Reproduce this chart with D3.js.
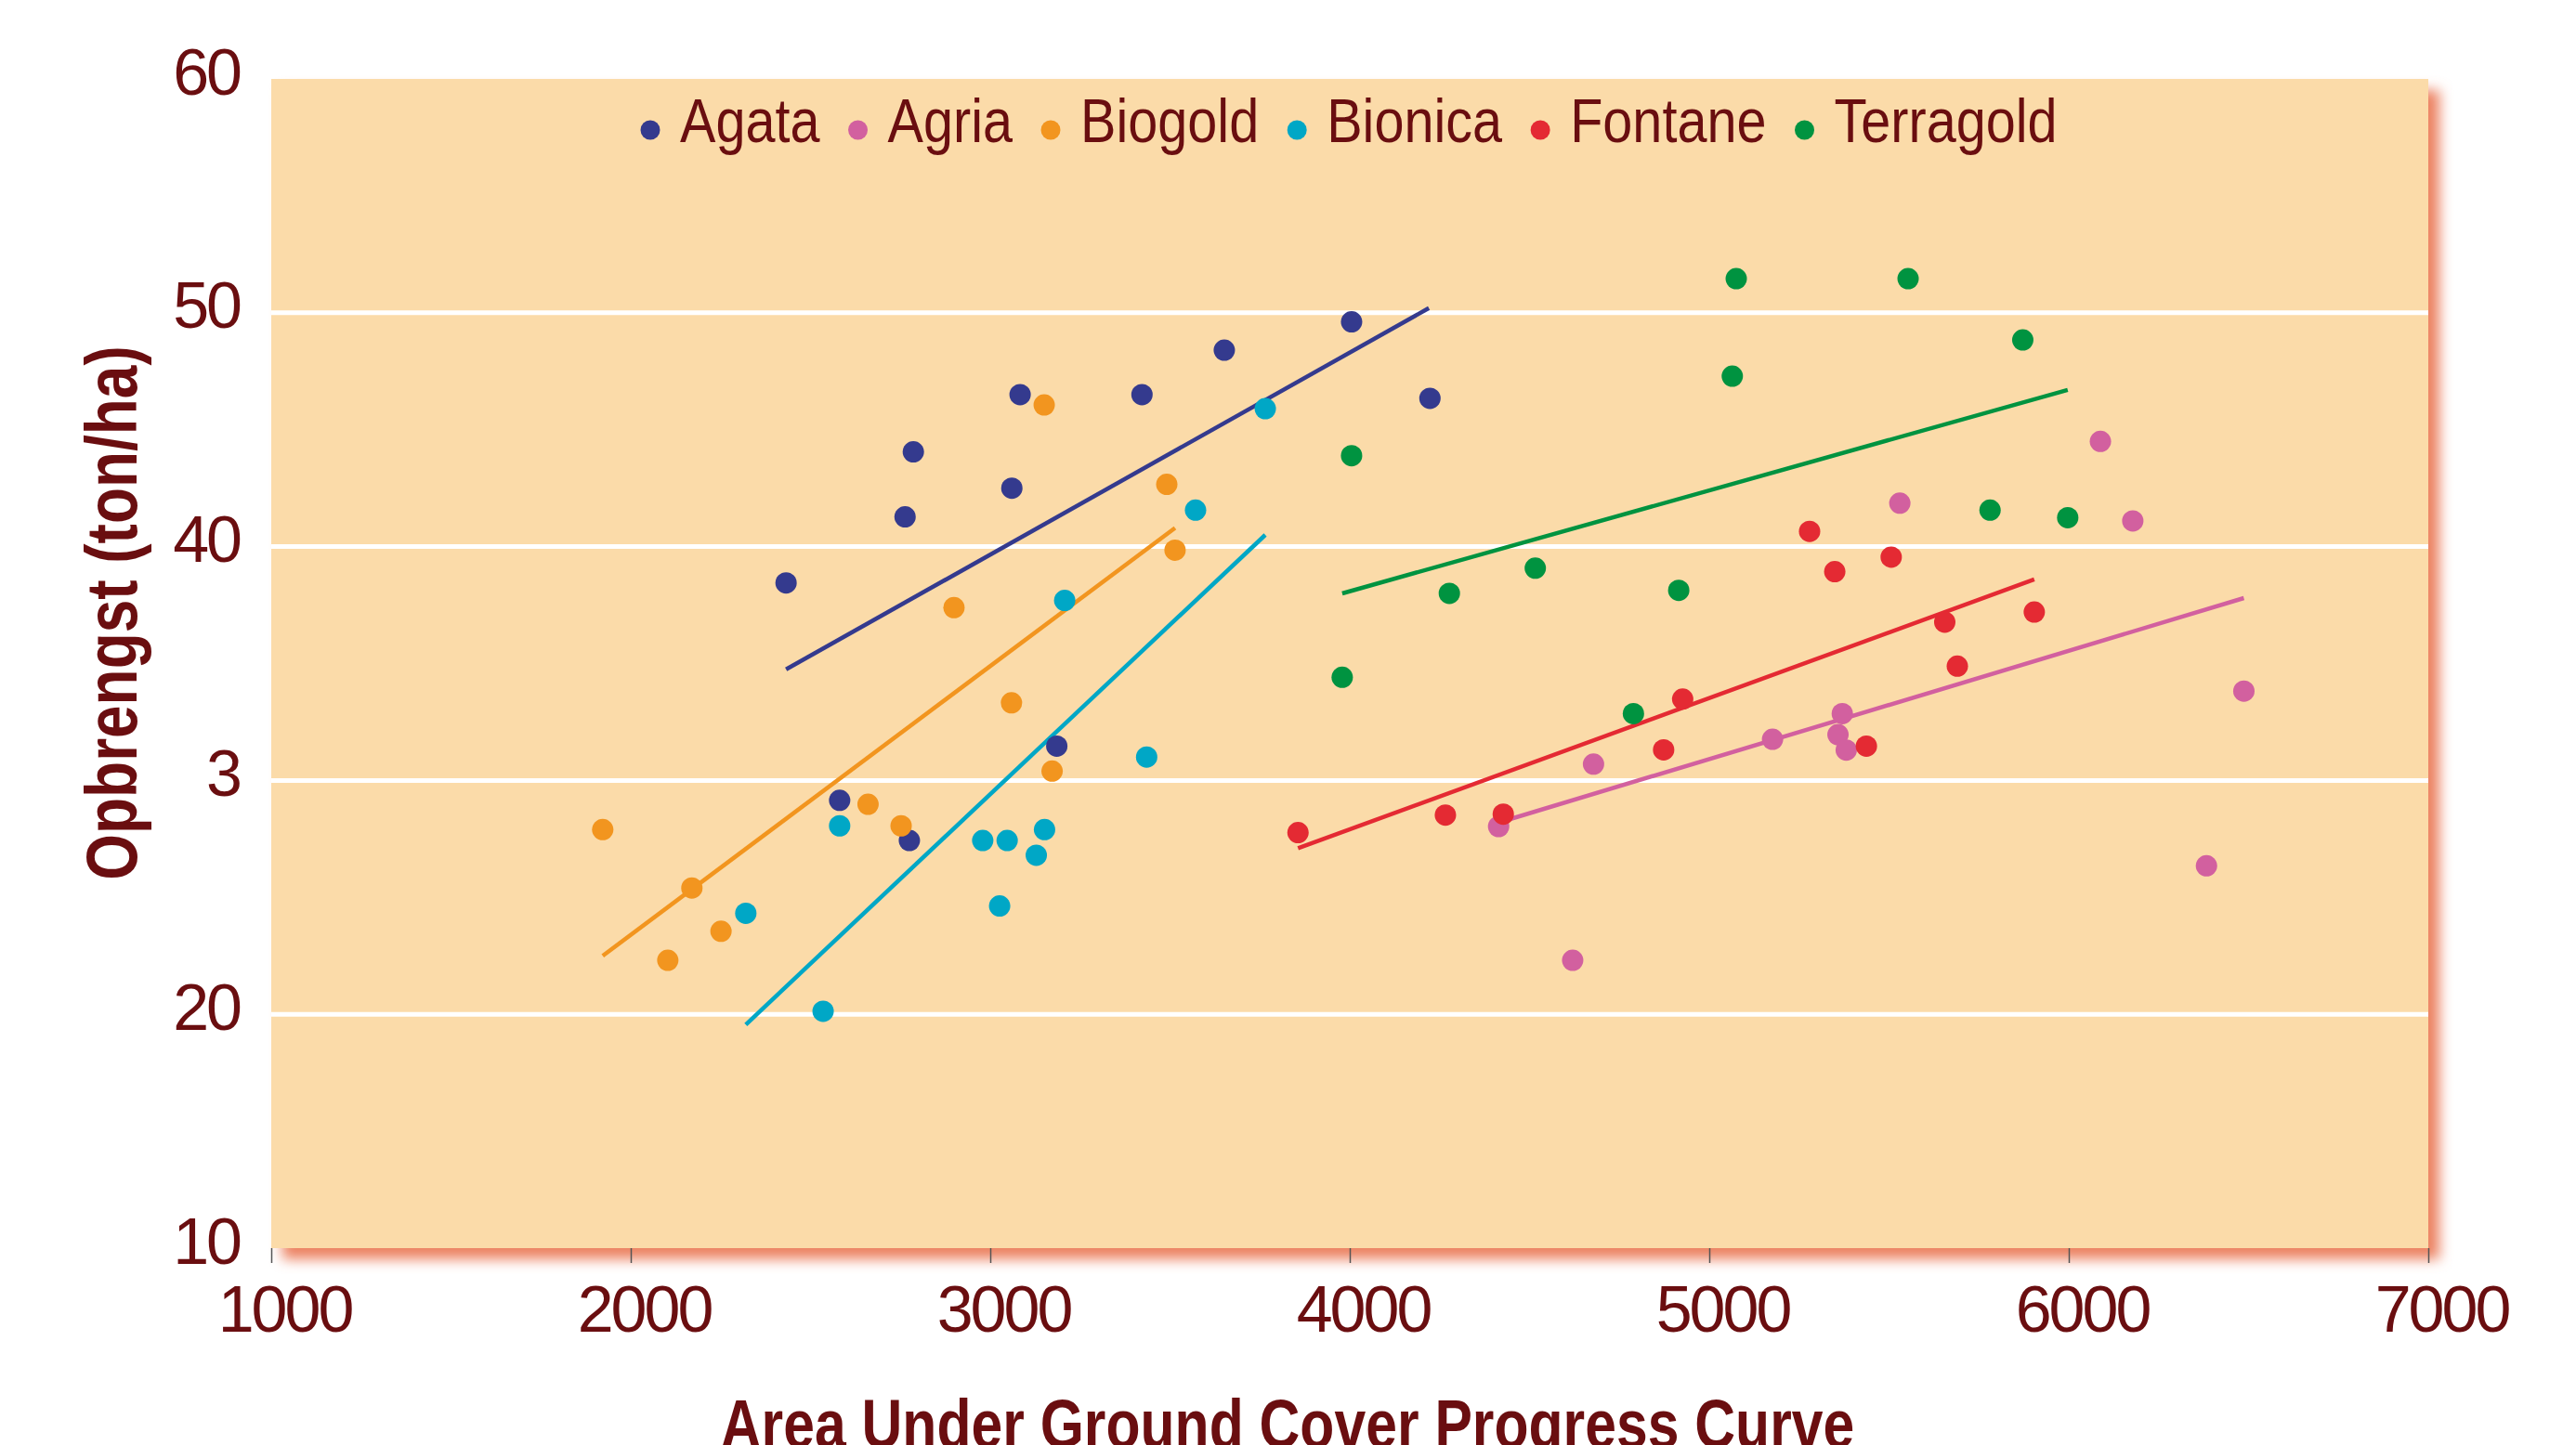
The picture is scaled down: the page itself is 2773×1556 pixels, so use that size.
<!DOCTYPE html>
<html>
<head>
<meta charset="utf-8">
<script src="https://cdn.jsdelivr.net/npm/d3@7"></script>
<style>
body { margin: 0; background: #fff; }
svg { display: block; }
</style>
</head>
<body>
<svg id="chart" width="2773" height="1556"></svg>
<script>
// values: [area under curve, yield]
var seriesNames = ['Agata', 'Agria', 'Biogold', 'Bionica', 'Fontane', 'Terragold'];
var seriesColors = ['#343a8e', '#d2609f', '#f2951f', '#00a7c6', '#e42a33', '#009340'];

var agata = [[2432,38.45],[2763,41.27],[2786,44.05],[3060,42.5],[3083,46.5],[3422,46.5],[3651,48.4],[4005,49.61],[4223,46.34],[3185,31.47],[2581,29.15],[2775,27.43]];
var agria = [[4414,28.03],[4620,22.31],[4678,30.7],[5176,31.76],[5358,31.96],[5370,32.86],[5381,31.3],[5530,41.86],[6088,44.5],[6178,41.1],[6383,26.35],[6487,33.82]];
var biogold = [[1922,27.9],[2103,22.31],[2170,25.4],[2251,23.55],[2660,28.98],[2752,28.06],[2899,37.39],[3059,33.32],[3150,46.06],[3172,30.4],[3491,42.66],[3514,39.85]];
var bionica = [[2320,24.32],[2535,20.13],[2581,28.06],[2979,27.43],[3026,24.63],[3047,27.43],[3128,26.8],[3151,27.9],[3207,37.7],[3435,31.0],[3571,41.56],[3765,45.9]];
var fontane = [[3856,27.77],[4266,28.52],[4427,28.56],[4873,31.31],[4926,33.48],[5279,40.65],[5349,38.93],[5437,31.47],[5506,39.55],[5655,36.77],[5690,34.89],[5904,37.2]];
var terragold = [[3979,34.41],[4005,43.89],[4277,38.0],[4516,39.08],[4789,32.86],[4915,38.13],[5064,47.29],[5075,51.46],[5553,51.46],[5781,41.56],[5872,48.84],[5997,41.24]];

// trend lines, start and end
var agataTrend = [[2432,34.75],[4220,50.2]];
var agriaTrend = [[4414,28.2],[6487,37.8]];
var biogoldTrend = [[1922,22.5],[3514,40.8]];
var bionicaTrend = [[2320,19.56],[3765,40.5]];
var fontaneTrend = [[3856,27.1],[5904,38.6]];
var terragoldTrend = [[3979,38.0],[5997,46.7]];

var xTicks = [1000, 2000, 3000, 4000, 5000, 6000, 7000];
var yTicks = [10, 20, 30, 40, 50, 60];
var yTickLabels = ['10', '20', '3', '40', '50', '60']; // the "3" is as printed
var gridValues = [20, 30, 40, 50];
var xTitle = 'Area Under Ground Cover Progress Curve';
var yTitle = 'Opbrengst (ton/ha)';

var points = [agata, agria, biogold, bionica, fontane, terragold];
var trends = [agataTrend, agriaTrend, biogoldTrend, bionicaTrend, fontaneTrend, terragoldTrend];

var textColor = '#6a0e10';
var sans = "'Liberation Sans', Arial, sans-serif";
var squeeze = 0.82; // no condensed face installed, so squash by hand
var legendSqueeze = 0.86;

var svg = d3.select('#chart');
var plotLeft = 292, plotRight = 2614, plotTop = 85, plotBottom = 1344;

var x = d3.scaleLinear().domain([1000, 7000]).range([plotLeft, plotRight]);
var y = d3.scaleLinear().domain([10, 60]).range([plotBottom, plotTop]);

function drawFrame(){
	var defs = svg.append('defs');
	var f = defs.append('filter').attr('id', 'shade')
		.attr('x', -0.05).attr('y', -0.05).attr('width', 1.1).attr('height', 1.1);
	f.append('feGaussianBlur').attr('stdDeviation', 7);

	svg.append('rect')
		.attr('x', plotLeft + 12).attr('y', plotTop + 12)
		.attr('width', plotRight - plotLeft).attr('height', plotBottom - plotTop)
		.style('fill', '#ec8262')
		.attr('filter', 'url(#shade)');

	svg.append('rect')
		.attr('x', plotLeft).attr('y', plotTop)
		.attr('width', plotRight - plotLeft).attr('height', plotBottom - plotTop)
		.style('fill', '#fbdba9');

	svg.append('g').selectAll('line').data(gridValues).join('line')
		.attr('x1', plotLeft).attr('x2', plotRight)
		.attr('y1', d => y(d)).attr('y2', d => y(d))
		.style('stroke', '#fff').style('stroke-width', 5);
}

function drawAxes(){
	var xAxis = d3.axisBottom(x).tickValues(xTicks).tickSize(16).tickFormat(d3.format('d'));
	var gx = svg.append('g').attr('transform', 'translate(0,' + plotBottom + ')').call(xAxis);
	gx.select('.domain').remove();
	gx.selectAll('.tick line').style('stroke', '#555').style('stroke-width', 1.5);
	gx.selectAll('.tick text')
		.attr('y', 90).attr('dy', 0).attr('dx', 14)
		.style('fill', textColor)
		.style('font-family', sans)
		.style('font-size', '70px')
		.style('letter-spacing', '-3px');

	var yAxis = d3.axisLeft(y).tickValues(yTicks).tickSize(0).tickPadding(34)
		.tickFormat((d, i) => yTickLabels[i]);
	var gy = svg.append('g').attr('transform', 'translate(' + plotLeft + ',0)').call(yAxis);
	gy.select('.domain').remove();
	gy.selectAll('.tick text')
		.attr('dy', 16)
		.style('fill', textColor)
		.style('font-family', sans)
		.style('font-size', '70px')
		.style('letter-spacing', '-3px');

	svg.append('text')
		.attr('transform', 'translate(' + ((plotLeft + plotRight) / 2 - 67) + ',1559) scale(' + squeeze + ',1)')
		.attr('text-anchor', 'middle')
		.style('fill', textColor)
		.style('font-family', sans)
		.style('font-weight', 'bold')
		.style('font-size', '74px')
		.text(xTitle);

	svg.append('text')
		.attr('transform', 'translate(147,660) rotate(-90) scale(' + squeeze + ',1)')
		.attr('text-anchor', 'middle')
		.style('fill', textColor)
		.style('font-family', sans)
		.style('font-weight', 'bold')
		.style('font-size', '78px')
		.text(yTitle);
}

function drawSeries(){
	var line = d3.line().x(d => x(d[0])).y(d => y(d[1]));
	svg.append('g').selectAll('path').data(trends).join('path')
		.attr('d', line)
		.style('fill', 'none')
		.style('stroke', (d, i) => seriesColors[i])
		.style('stroke-width', 4.5);

	points.forEach(function(pts, i){
		svg.append('g').selectAll('circle').data(pts).join('circle')
			.attr('cx', d => x(d[0])).attr('cy', d => y(d[1]))
			.attr('r', 11.5)
			.style('fill', seriesColors[i]);
	});
}

function drawLegend(){
	var g = svg.append('g');
	var cx = 700;
	seriesNames.forEach(function(name, i){
		g.append('circle').attr('cx', cx).attr('cy', 140).attr('r', 10.5).style('fill', seriesColors[i]);
		var t = g.append('text')
			.attr('transform', 'translate(' + (cx + 32) + ',153) scale(' + legendSqueeze + ',1)')
			.style('fill', textColor)
			.style('font-family', sans)
			.style('font-size', '67px')
			.text(name);
		cx = cx + 32 + t.node().getComputedTextLength() * legendSqueeze + 41;
	});
}

drawFrame();
drawSeries();
drawAxes();
drawLegend();
</script>
</body>
</html>
